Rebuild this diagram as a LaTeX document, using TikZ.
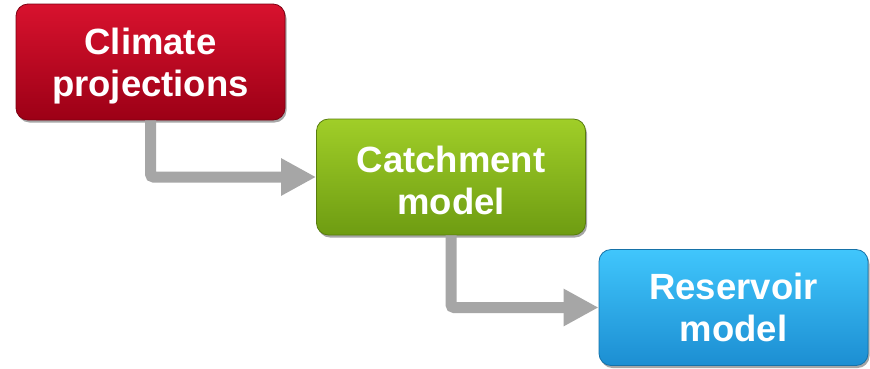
\documentclass[tikz,border=0pt]{standalone}
\usepackage{fontspec}
\setmainfont{Liberation Sans}
\usetikzlibrary{arrows.meta,shadows}
\definecolor{redtop}{HTML}{D8122E}
\definecolor{redbot}{HTML}{9C0016}
\definecolor{grntop}{HTML}{A0CE28}
\definecolor{grnbot}{HTML}{6E9C12}
\definecolor{blutop}{HTML}{40C6FC}
\definecolor{blubot}{HTML}{1C8ED2}
\definecolor{arrgray}{HTML}{A6A6A6}
\begin{document}
\begin{tikzpicture}[x=1pt,y=-1pt,
  box/.style={rounded corners=12pt, minimum width=269pt, minimum height=116pt,
    inner sep=0pt, line width=0.8pt,
    drop shadow={shadow xshift=1.5pt, shadow yshift=-2.5pt, opacity=0.35, fill=black}},
  boxtext/.style={inner sep=0pt, align=center, text=white,
    font=\fontsize{36.5}{42}\selectfont\bfseries},
  flow/.style={draw=arrgray, line width=11pt, rounded corners=3pt,
    -{Triangle[length=35pt,width=35pt]}}]
\fill[white] (0,0) rectangle (870,368);
\useasboundingbox (0,0) rectangle (870,368);
\node[box, draw=redbot!80!black, top color=redtop, bottom color=redbot] (clim) at (150.5,62) {};
\node[boxtext] (climt) at ([yshift=-4pt]clim.center) {Climate\\projections};
\node[box, draw=grnbot!80!black, top color=grntop, bottom color=grnbot] (catch) at (451,177) {};
\node[boxtext] (catcht) at ([yshift=-3pt]catch.center) {Catchment\\model};
\node[box, draw=blubot!80!black, top color=blutop, bottom color=blubot] (res) at (733.5,307.5) {};
\node[boxtext] (rest) at ([yshift=0pt]res.center) {Reservoir\\model};
\draw[flow] (clim.south) |- (catch.west);
\draw[flow] (catch.south) |- (res.west);
\end{tikzpicture}
\end{document}
